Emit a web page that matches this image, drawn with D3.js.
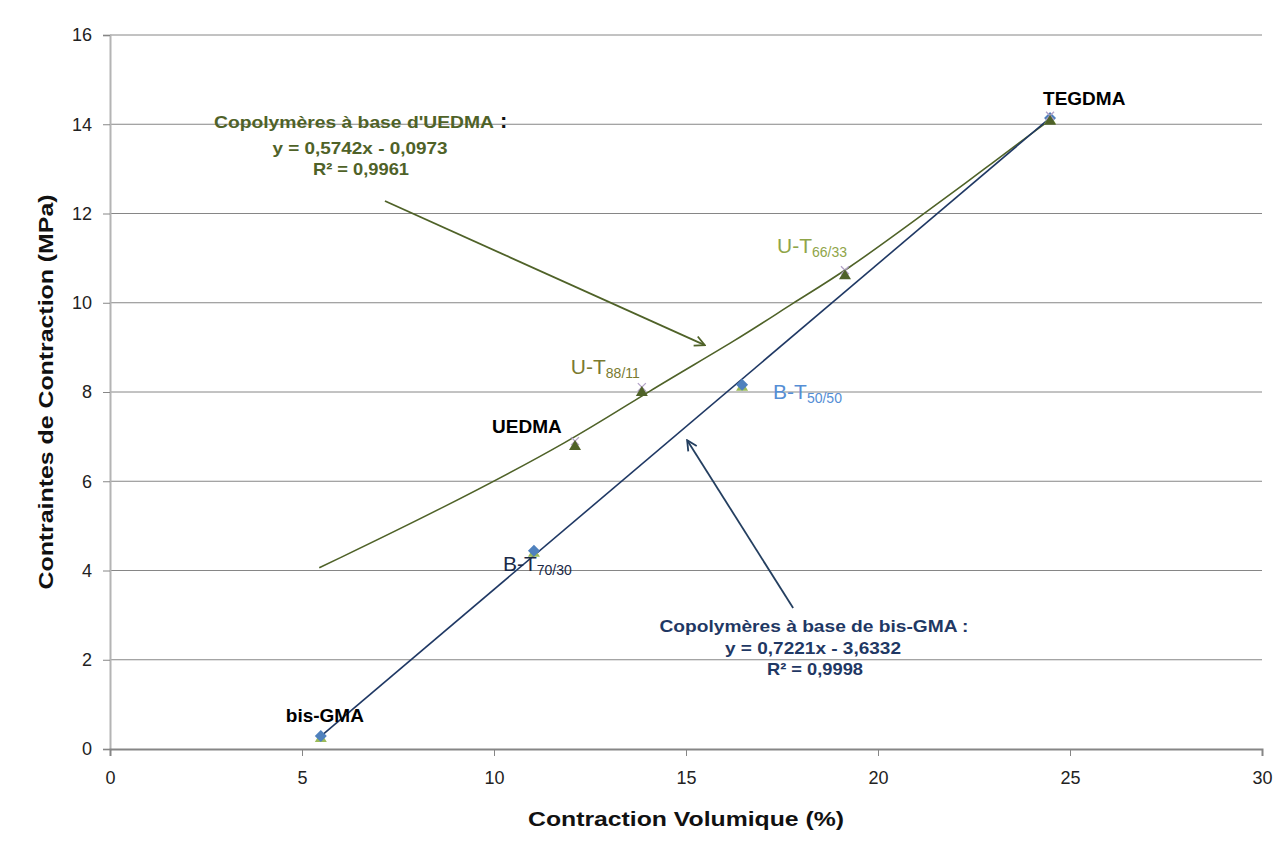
<!DOCTYPE html>
<html><head><meta charset="utf-8">
<script src="https://cdn.jsdelivr.net/npm/d3@7"></script>
<style>
html,body{margin:0;padding:0;background:#fff;}
svg{display:block;font-family:"Liberation Sans",Arial,sans-serif;}
</style></head>
<body>
<svg id="chart" width="1284" height="848"></svg>
<script>
// ---- data ----
const bisLabels = ["bis-GMA", "B-T", "B-T", "TEGDMA"];
const bisSubs   = ["", "70/30", "50/50", ""];
const bisX = [5.49, 11.04, 16.46, 24.48];
const bisY = [0.29, 4.44, 8.16, 14.14];

const uedmaLabels = ["UEDMA", "U-T", "U-T", ""];
const uedmaSubs   = ["", "88/11", "66/33", ""];
const uedmaX = [12.11, 13.85, 19.14, 24.48];
const uedmaY = [6.81, 8.02, 10.64, 14.10];

const bisTrendX = [5.47, 24.45];
const bisTrendY = [0.27, 14.12];

const uedmaCurveX = [5.45, 8.59, 12.10, 13.98, 16.41, 17.79, 19.14, 21.22, 22.73, 24.48];
const uedmaCurveY = [4.06, 5.36, 6.95, 8.00, 9.21, 10.00, 10.70, 12.01, 12.97, 14.10];

const xTicks = [0, 5, 10, 15, 20, 25, 30];
const yTicks = [0, 2, 4, 6, 8, 10, 12, 14, 16];

const xTitle = "Contraction Volumique (%)";
const yTitle = "Contraintes de Contraction (MPa)";

const uedmaNote = ["Copolymères à base d'UEDMA", "y = 0,5742x - 0,0973", "R² = 0,9961"];
const bisNote = ["Copolymères à base de bis-GMA :", "y = 0,7221x - 3,6332", "R² = 0,9998"];
// arrows: [tailX, tailY, headX, headY] in data units
const uedmaArrow = [7.16, 12.28, 15.49, 9.05];
const bisArrow = [17.79, 3.16, 15.03, 6.92];

// ---- layout ----
const svg = d3.select("#chart");
const x = d3.scaleLinear().domain([0, 30]).range([110, 1262]);
const y = d3.scaleLinear().domain([0, 16]).range([749, 35]);

const olive = "#4F6228", navy = "#1F3864";

// gridlines
svg.append("g").selectAll("line").data(yTicks.filter(d => d > 0)).join("line")
  .attr("x1", x(0)).attr("x2", x(30)).attr("y1", d => y(d)).attr("y2", d => y(d))
  .attr("stroke", "#868686").attr("stroke-width", 1);

// y axis
const yAxis = svg.append("g").attr("transform", `translate(${x(0)},0)`)
  .call(d3.axisLeft(y).tickValues(yTicks).tickSize(7).tickPadding(11).tickFormat(d3.format("d")));
yAxis.select(".domain").attr("stroke", "#B4B4B4").attr("stroke-width", 2);
yAxis.selectAll(".tick line").attr("stroke", "#868686");
yAxis.selectAll(".tick text").attr("font-size", 18).attr("fill", "#222")
  .attr("font-family", "Liberation Sans, Arial, sans-serif");

// x axis
const xAxis = svg.append("g").attr("transform", `translate(0,${y(0)})`)
  .call(d3.axisBottom(x).tickValues(xTicks).tickSize(7).tickPadding(15).tickFormat(d3.format("d")));
xAxis.select(".domain").attr("stroke", "#868686").attr("stroke-width", 2);
xAxis.selectAll(".tick line").attr("stroke", "#868686");
xAxis.selectAll(".tick text").attr("font-size", 18).attr("fill", "#222")
  .attr("font-family", "Liberation Sans, Arial, sans-serif");

// axis titles
svg.append("text").attr("x", 686).attr("y", 826).attr("text-anchor", "middle")
  .attr("font-size", 21).attr("font-weight", "bold").attr("fill", "#111")
  .attr("textLength", 316).attr("lengthAdjust", "spacingAndGlyphs").text(xTitle);
svg.append("text").attr("transform", "translate(53,392) rotate(-90)").attr("text-anchor", "middle")
  .attr("font-size", 21).attr("font-weight", "bold").attr("fill", "#111")
  .attr("textLength", 395).attr("lengthAdjust", "spacingAndGlyphs").text(yTitle);

// trend lines
const curvePts = uedmaCurveX.map((v, i) => [x(v), y(uedmaCurveY[i])]);
svg.append("path").attr("d", d3.line().curve(d3.curveBasis)(curvePts))
  .attr("fill", "none").attr("stroke", olive).attr("stroke-width", 1.6);
const bisPts = bisTrendX.map((v, i) => [x(v), y(bisTrendY[i])]);
svg.append("path").attr("d", d3.line()(bisPts))
  .attr("fill", "none").attr("stroke", navy).attr("stroke-width", 1.6);

// arrows
const defs = svg.append("defs");
function marker(id, color) {
  defs.append("marker").attr("id", id).attr("viewBox", "0 0 12 12").attr("refX", 11).attr("refY", 6)
    .attr("markerWidth", 12).attr("markerHeight", 12).attr("markerUnits", "userSpaceOnUse")
    .attr("orient", "auto")
    .append("path").attr("d", "M1,1 L11,6 L1,11").attr("fill", "none")
    .attr("stroke", color).attr("stroke-width", 1.8);
}
marker("ah-olive", olive);
marker("ah-navy", "#243F60");
function arrow(a, color, id) {
  svg.append("line").attr("x1", x(a[0])).attr("y1", y(a[1])).attr("x2", x(a[2])).attr("y2", y(a[3]))
    .attr("stroke", color).attr("stroke-width", 1.8).attr("marker-end", `url(#${id})`);
}
arrow(uedmaArrow, olive, "ah-olive");
arrow(bisArrow, "#243F60", "ah-navy");

// markers
const tri = "M0,-5 L6,5 L-6,5 Z";
const diamond = "M0,-6 L6,0 L0,6 L-6,0 Z";
const xMark = "M-4,-4 L4,4 M-4,4 L4,-4";

// bis series: light green triangle behind blue diamond
svg.append("g").selectAll("path").data(bisX).join("path")
  .attr("transform", (d, i) => `translate(${x(d)},${y(bisY[i]) + 1})`)
  .attr("d", tri).attr("fill", "#9BBB59");
svg.append("g").selectAll("path").data(bisX).join("path")
  .attr("transform", (d, i) => `translate(${x(d)},${y(bisY[i])})`)
  .attr("d", diamond).attr("fill", "#4F81BD");
// uedma series: purple x and olive triangle
svg.append("g").selectAll("path").data(uedmaX).join("path")
  .attr("transform", (d, i) => `translate(${x(d)},${y(uedmaY[i]) - 4})`)
  .attr("d", xMark).attr("fill", "none").attr("stroke", "#B3A2C7").attr("stroke-width", 1.3);
svg.append("g").selectAll("path").data(uedmaX).join("path")
  .attr("transform", (d, i) => `translate(${x(d)},${y(uedmaY[i])})`)
  .attr("d", tri).attr("fill", olive);

// point labels (offsets relative to each point, in px)
function label(px, py, dx, dy, main, sub, color, bold) {
  const t = svg.append("text").attr("x", px + dx).attr("y", py + dy)
    .attr("fill", color).attr("font-size", bold ? 19 : 21).attr("font-weight", bold ? "bold" : "normal");
  t.append("tspan").text(main);
  if (sub) t.append("tspan").attr("font-size", 14).attr("dy", 4).text(sub);
}
const bisOff = [[-35, -14, "#000", true], [-31, 20, "#1B2A47", false], [31, 14, "#558ED5", false], [-7, -13, "#000", true]];
bisX.forEach((d, i) => {
  const o = bisOff[i];
  label(x(d), y(bisY[i]), o[0], o[1], bisLabels[i], bisSubs[i], o[2], o[3]);
});
const uOff = [[-83, -12, "#000", true], [-71, -17, "#7A7A30", false], [-68, -21, "#8FA548", false], [0, 0, "#000", true]];
uedmaX.forEach((d, i) => {
  if (!uedmaLabels[i]) return;
  const o = uOff[i];
  label(x(d), y(uedmaY[i]), o[0], o[1], uedmaLabels[i], uedmaSubs[i], o[2], o[3]);
});

// equation notes
const n1 = svg.append("g").attr("font-weight", "bold").attr("fill", olive);
n1.append("text").attr("x", 214).attr("y", 128).attr("font-size", 17)
  .attr("textLength", 280).attr("lengthAdjust", "spacingAndGlyphs").text(uedmaNote[0]);
n1.append("text").attr("x", 500).attr("y", 128).attr("font-size", 22).attr("fill", "#111").text(":");
n1.append("text").attr("x", 360).attr("y", 154).attr("text-anchor", "middle").attr("font-size", 17)
  .attr("textLength", 175).attr("lengthAdjust", "spacingAndGlyphs").text(uedmaNote[1]);
n1.append("text").attr("x", 361).attr("y", 175).attr("text-anchor", "middle").attr("font-size", 17)
  .attr("textLength", 96).attr("lengthAdjust", "spacingAndGlyphs").text(uedmaNote[2]);

const n2 = svg.append("g").attr("font-weight", "bold").attr("fill", "#1F3864");
n2.append("text").attr("x", 814).attr("y", 632).attr("text-anchor", "middle").attr("font-size", 17)
  .attr("textLength", 309).attr("lengthAdjust", "spacingAndGlyphs").text(bisNote[0]);
n2.append("text").attr("x", 813).attr("y", 654).attr("text-anchor", "middle").attr("font-size", 17)
  .attr("textLength", 176).attr("lengthAdjust", "spacingAndGlyphs").text(bisNote[1]);
n2.append("text").attr("x", 815).attr("y", 675).attr("text-anchor", "middle").attr("font-size", 17)
  .attr("textLength", 96).attr("lengthAdjust", "spacingAndGlyphs").text(bisNote[2]);
</script>
</body></html>
